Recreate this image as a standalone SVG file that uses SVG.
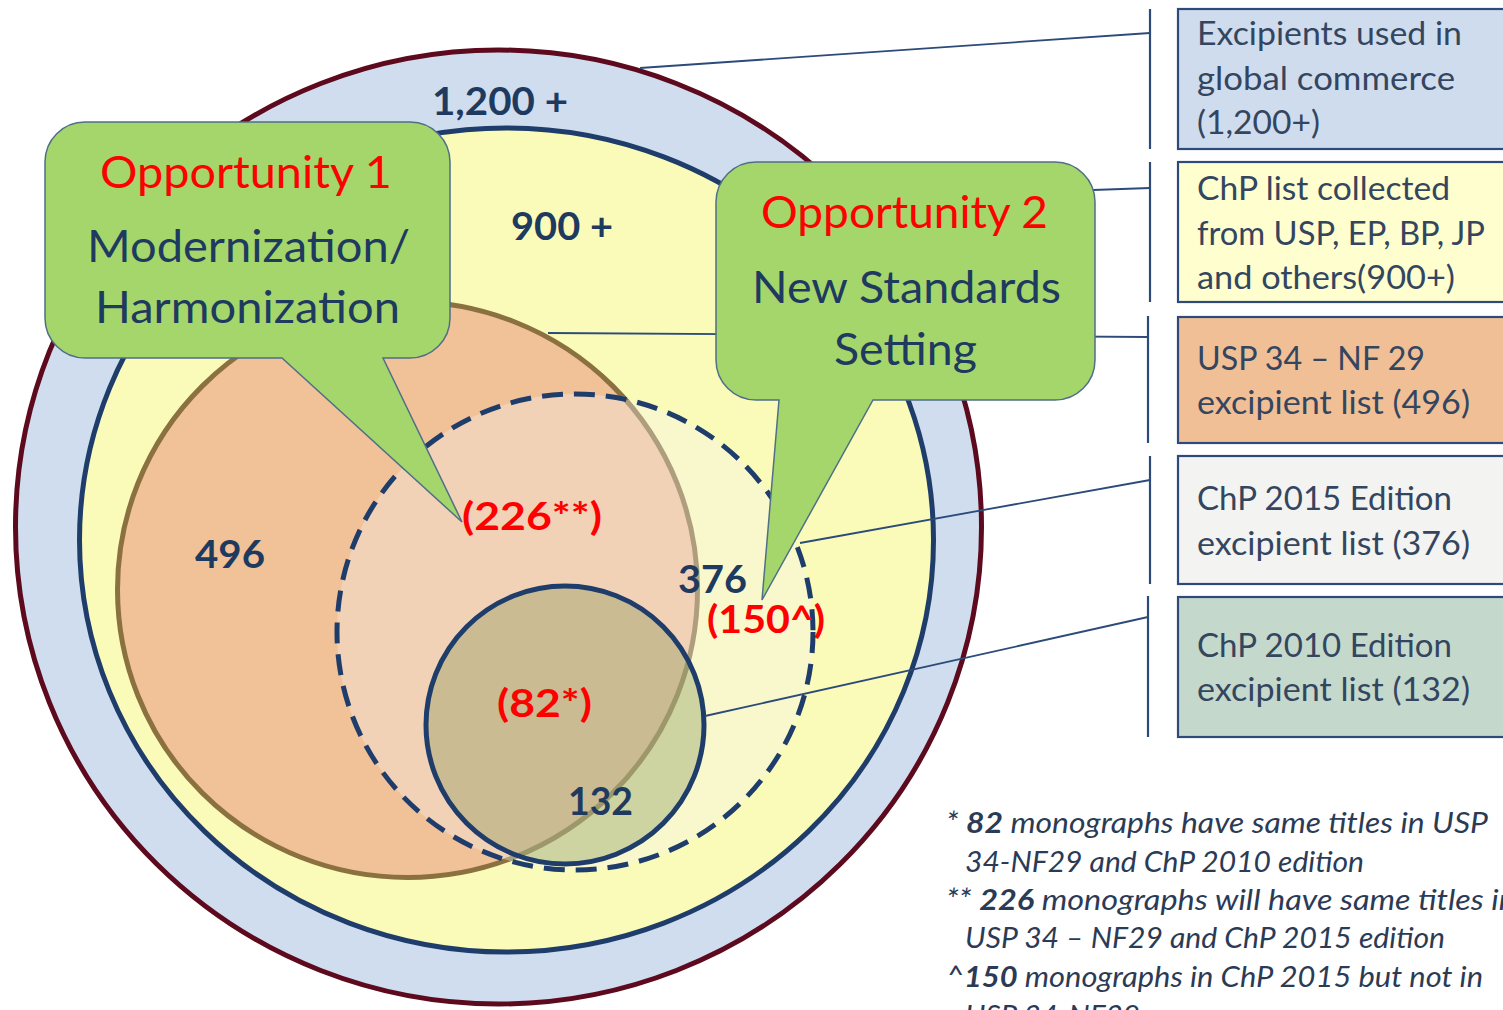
<svg xmlns="http://www.w3.org/2000/svg" width="1503" height="1010" viewBox="0 0 1503 1010">
  <style>
    .num { font-family: Lato, "Liberation Sans", sans-serif; font-weight: bold; fill: #1f3a5f; font-size: 39px; }
    .red { font-family: Lato, "Liberation Sans", sans-serif; font-weight: bold; fill: #ff0000; font-size: 39px; }
    .ctitle { font-family: Lato, "Liberation Sans", sans-serif; fill: #ff0000; font-size: 45px; text-anchor: start; }
    .cbody { font-family: Lato, "Liberation Sans", sans-serif; fill: #1f3a5f; font-size: 45px; }
    .legend { font-family: Lato, "Liberation Sans", sans-serif; fill: #34465f; font-size: 32px; }
    .note { font-family: Lato, "Liberation Sans", sans-serif; font-style: italic; fill: #2b3b55; font-size: 29px; }
    .conn { stroke: #2c4a7a; stroke-width: 1.8; fill: none; }
    .bracket { stroke: #2c4a7a; stroke-width: 2.2; fill: none; }
    .callout { fill: #a5d66b; stroke: #4f6f88; stroke-width: 1.5; }
    .box { stroke: #2e4a7a; stroke-width: 2.2; }
  </style>

  <rect width="1503" height="1010" fill="#ffffff"/>

  <!-- nested sets -->
  <g id="set-global">
    <ellipse cx="498.5" cy="527" rx="483" ry="477" fill="#cfddef" stroke="#5e0a1e" stroke-width="5"/>
  </g>
  <g id="set-chp-collected">
    <ellipse cx="506.5" cy="540" rx="427" ry="412" fill="#fbfbb9" stroke="#1f3d6b" stroke-width="5"/>
  </g>
  <g id="set-usp">
    <ellipse cx="407.5" cy="589.5" rx="290" ry="288" fill="#f1c197" stroke="#8b7140" stroke-width="5"/>
  </g>
  <g id="set-chp-2015">
    <circle cx="575" cy="632" r="238" fill="#f4f4f0" fill-opacity="0.35" stroke="#1f3d6b" stroke-width="5" stroke-dasharray="21 11"/>
  </g>
  <g id="set-chp-2010">
    <circle cx="565" cy="725" r="139" fill="#788c4a" fill-opacity="0.33" stroke="#1f3d6b" stroke-width="5"/>
  </g>

  <!-- leader lines to the legend -->
  <g id="connectors">
    <line class="conn" x1="640" y1="68" x2="1150" y2="33"/>
    <line class="conn" x1="1093" y1="190" x2="1150" y2="188"/>
    <line class="conn" x1="548" y1="333" x2="1148" y2="337"/>
    <line class="conn" x1="800" y1="543" x2="1150" y2="480"/>
    <line class="conn" x1="705" y1="716" x2="1148" y2="617"/>
    <line class="bracket" x1="1150" y1="9" x2="1150" y2="149"/>
    <line class="bracket" x1="1150" y1="162" x2="1150" y2="302"/>
    <line class="bracket" x1="1148" y1="316" x2="1148" y2="443"/>
    <line class="bracket" x1="1150" y1="456" x2="1150" y2="584"/>
    <line class="bracket" x1="1148" y1="596" x2="1148" y2="737"/>
  </g>

  <!-- set counts -->
  <g id="counts">
    <text class="num" x="432" y="115" textLength="136" lengthAdjust="spacingAndGlyphs">1,200 +</text>
    <text class="num" x="511" y="240" textLength="102" lengthAdjust="spacingAndGlyphs">900 +</text>
    <text class="num" x="195" y="568" textLength="70" lengthAdjust="spacingAndGlyphs">496</text>
    <text class="num" x="678" y="593" textLength="69" lengthAdjust="spacingAndGlyphs">376</text>
    <text class="num" x="568" y="815" textLength="65" lengthAdjust="spacingAndGlyphs">132</text>
  </g>

  <!-- callouts -->
  <g id="opportunity-1">
    <path class="callout" d="M85,122 H410 A40,40 0 0 1 450,162 V318 A40,40 0 0 1 410,358 H383 L462,522 L282,358 H85 A40,40 0 0 1 45,318 V162 A40,40 0 0 1 85,122 Z"/>
    <text class="ctitle" x="100" y="188" textLength="292" lengthAdjust="spacingAndGlyphs">Opportunity 1</text>
    <text class="cbody" x="87" y="262" textLength="323" lengthAdjust="spacingAndGlyphs">Modernization/</text>
    <text class="cbody" x="95" y="323" textLength="305" lengthAdjust="spacingAndGlyphs">Harmonization</text>
  </g>
  <g id="opportunity-2">
    <path class="callout" d="M756,162 H1055 A40,40 0 0 1 1095,202 V360 A40,40 0 0 1 1055,400 H873 L762,600 L779,400 H756 A40,40 0 0 1 716,360 V202 A40,40 0 0 1 756,162 Z"/>
    <text class="ctitle" x="761" y="228" textLength="287" lengthAdjust="spacingAndGlyphs">Opportunity 2</text>
    <text class="cbody" x="752" y="303" textLength="309" lengthAdjust="spacingAndGlyphs">New Standards</text>
    <text class="cbody" x="834" y="365" textLength="143" lengthAdjust="spacingAndGlyphs">Setting</text>
  </g>

  <!-- overlap counts -->
  <g id="overlaps">
    <text class="red" x="462" y="530" textLength="140" lengthAdjust="spacingAndGlyphs">(226**)</text>
    <text class="red" x="707" y="633" textLength="118" lengthAdjust="spacingAndGlyphs">(150^)</text>
    <text class="red" x="497" y="717" textLength="95" lengthAdjust="spacingAndGlyphs">(82*)</text>
  </g>

  <!-- legend -->
  <g id="legend-global">
    <rect class="box" x="1178" y="9" width="335" height="140" fill="#cfdcee"/>
    <text class="legend" x="1197" y="45" textLength="265" lengthAdjust="spacingAndGlyphs">Excipients used in</text>
    <text class="legend" x="1197" y="90" textLength="258" lengthAdjust="spacingAndGlyphs">global commerce</text>
    <text class="legend" x="1197" y="134" textLength="123" lengthAdjust="spacingAndGlyphs">(1,200+)</text>
  </g>
  <g id="legend-chp-collected">
    <rect class="box" x="1178" y="162" width="335" height="140" fill="#fefece"/>
    <text class="legend" x="1197" y="200" textLength="253" lengthAdjust="spacingAndGlyphs">ChP list collected</text>
    <text class="legend" x="1197" y="245" textLength="288" lengthAdjust="spacingAndGlyphs">from USP, EP, BP, JP</text>
    <text class="legend" x="1197" y="289" textLength="258" lengthAdjust="spacingAndGlyphs">and others(900+)</text>
  </g>
  <g id="legend-usp">
    <rect class="box" x="1178" y="317" width="335" height="126" fill="#f0bf96"/>
    <text class="legend" x="1197" y="370" textLength="228" lengthAdjust="spacingAndGlyphs">USP 34 – NF 29</text>
    <text class="legend" x="1197" y="414" textLength="273" lengthAdjust="spacingAndGlyphs">excipient list (496)</text>
  </g>
  <g id="legend-chp-2015">
    <rect class="box" x="1178" y="456" width="335" height="128" fill="#f3f3f1"/>
    <text class="legend" x="1197" y="510" textLength="255" lengthAdjust="spacingAndGlyphs">ChP 2015 Edition</text>
    <text class="legend" x="1197" y="555" textLength="273" lengthAdjust="spacingAndGlyphs">excipient list (376)</text>
  </g>
  <g id="legend-chp-2010">
    <rect class="box" x="1178" y="597" width="335" height="140" fill="#c5d8cc"/>
    <text class="legend" x="1197" y="657" textLength="255" lengthAdjust="spacingAndGlyphs">ChP 2010 Edition</text>
    <text class="legend" x="1197" y="701" textLength="273" lengthAdjust="spacingAndGlyphs">excipient list (132)</text>
  </g>

  <!-- footnotes -->
  <g id="notes">
    <text class="note" x="946" y="833" textLength="542" lengthAdjust="spacingAndGlyphs">* <tspan font-weight="bold">82</tspan> monographs have same titles in USP</text>
    <text class="note" x="965" y="872" textLength="399" lengthAdjust="spacingAndGlyphs">34-NF29 and ChP 2010 edition</text>
    <text class="note" x="946" y="910" textLength="570" lengthAdjust="spacingAndGlyphs">** <tspan font-weight="bold">226</tspan> monographs will have same titles in</text>
    <text class="note" x="965" y="948" textLength="480" lengthAdjust="spacingAndGlyphs">USP 34 – NF29 and ChP 2015 edition</text>
    <text class="note" x="946" y="987" textLength="537" lengthAdjust="spacingAndGlyphs">^<tspan font-weight="bold">150</tspan> monographs in ChP 2015 but not in</text>
    <text class="note" x="965" y="1026" textLength="175" lengthAdjust="spacingAndGlyphs">USP 34-NF29</text>
  </g>
</svg>
